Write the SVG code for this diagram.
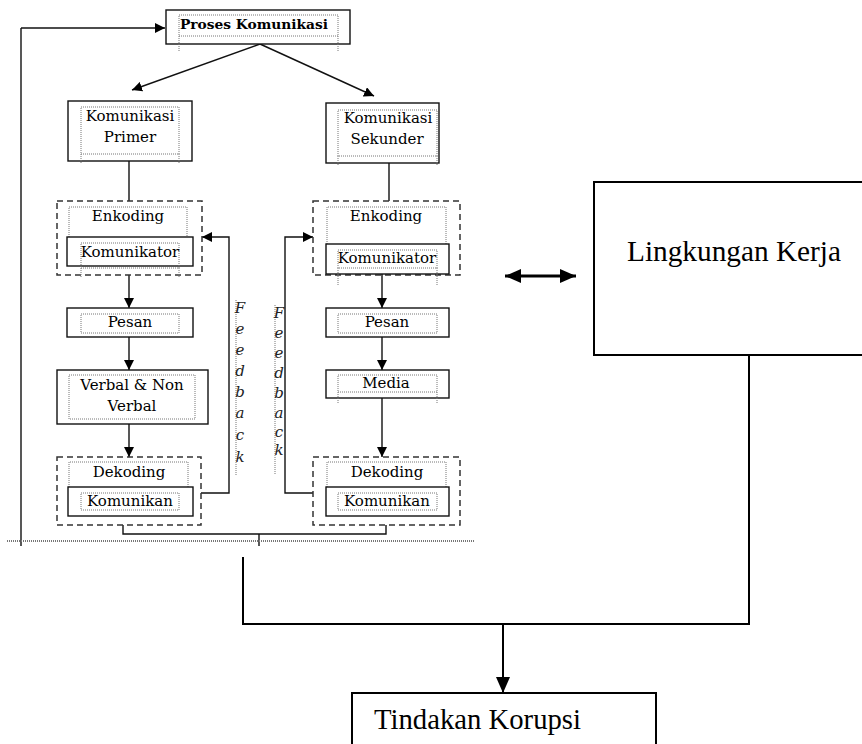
<svg xmlns="http://www.w3.org/2000/svg" width="862" height="744" viewBox="0 0 862 744">
<style>
.box{fill:#fff;stroke:#111;stroke-width:1.4}
.dash{fill:none;stroke:#333;stroke-width:1.5;stroke-dasharray:6 4}
.dot{fill:none;stroke:#777;stroke-width:1;stroke-dasharray:1 1}
.ln{fill:none;stroke:#111;stroke-width:1.4}
.big{fill:none;stroke:#000;stroke-width:2}
.t{font-family:"DejaVu Serif","Liberation Serif",serif;font-size:15px;fill:#000;text-anchor:middle}
.tb{font-family:"DejaVu Serif","Liberation Serif",serif;font-size:13.5px;font-weight:bold;fill:#000;text-anchor:middle}
.fb{font-family:"DejaVu Serif","Liberation Serif",serif;font-size:15px;font-style:italic;fill:#222;text-anchor:middle}
.L{font-family:"Liberation Serif","Times New Roman",serif;font-size:29px;fill:#000}
</style>
<defs>
<marker id="a" viewBox="0 0 10 10" refX="10" refY="5" markerWidth="10" markerHeight="10" markerUnits="userSpaceOnUse" orient="auto"><path d="M0,0 L10,5 L0,10 z" fill="#000"/></marker>
<marker id="b" viewBox="0 0 16 14" refX="16" refY="7" markerWidth="16" markerHeight="14" markerUnits="userSpaceOnUse" orient="auto-start-reverse"><path d="M0,0 L16,7 L0,14 z" fill="#000"/></marker>
</defs>

<g id="connectors">
<line class="ln" x1="21" y1="546" x2="21" y2="28"/>
<line class="ln" x1="21" y1="28" x2="165" y2="28" marker-end="url(#a)"/>
<line class="ln" x1="260" y1="44" x2="132" y2="90" marker-end="url(#a)"/>
<line class="ln" x1="260" y1="44" x2="374" y2="96" marker-end="url(#a)"/>
<line class="ln" x1="129" y1="161" x2="129" y2="201"/>
<line class="ln" x1="389" y1="163" x2="389" y2="201"/>
<line class="ln" x1="129" y1="275" x2="129" y2="308" marker-end="url(#a)"/>
<line class="ln" x1="129" y1="337" x2="129" y2="370" marker-end="url(#a)"/>
<line class="ln" x1="129" y1="424" x2="129" y2="457" marker-end="url(#a)"/>
<line class="ln" x1="382" y1="274" x2="382" y2="308" marker-end="url(#a)"/>
<line class="ln" x1="382" y1="337" x2="382" y2="370" marker-end="url(#a)"/>
<line class="ln" x1="382" y1="398" x2="382" y2="457" marker-end="url(#a)"/>
<path class="ln" d="M201,493 H229 V237 H202" marker-end="url(#a)"/>
<path class="ln" d="M313,493 H285 V237 H313" marker-end="url(#a)"/>
<path class="ln" d="M123,525 V534 H386 V525"/>
<line class="ln" x1="259" y1="534" x2="259" y2="546"/>
<line x1="7" y1="541" x2="475" y2="541" stroke="#777" stroke-width="2" stroke-dasharray="1 1"/>
<line class="dot" x1="236" y1="300" x2="236" y2="475"/>
<line class="dot" x1="275" y1="305" x2="275" y2="475"/>
<line x1="505" y1="276" x2="576" y2="276" stroke="#000" stroke-width="3" marker-start="url(#b)" marker-end="url(#b)"/>
<path class="big" d="M243,557 V624 H749 V356"/>
<line class="big" x1="503" y1="624" x2="503" y2="693" marker-end="url(#b)"/>
</g>

<g id="proses">
<rect class="box" x="166" y="10" width="184" height="34"/>
<rect class="dot" x="179" y="15" width="159" height="21"/>
<path class="dot" d="M179,36 V51 M338,36 V51"/>
<text class="tb" x="254" y="29" textLength="148" lengthAdjust="spacingAndGlyphs">Proses Komunikasi</text>
</g>

<g id="primer">
<rect class="box" x="68" y="101" width="124" height="60"/>
<rect class="dot" x="81" y="107" width="98" height="47"/>
<path class="dot" d="M81,154 V163 M179,154 V163"/>
<text class="t" x="130" y="121">Komunikasi</text>
<text class="t" x="130" y="142">Primer</text>
</g>

<g id="sekunder">
<rect class="box" x="326" y="103" width="113" height="60"/>
<rect class="dot" x="338" y="110" width="99" height="46"/>
<path class="dot" d="M338,156 V165 M437,156 V165"/>
<text class="t" x="388" y="123">Komunikasi</text>
<text class="t" x="387" y="144">Sekunder</text>
</g>

<g id="enkoding-l">
<rect class="dash" x="57" y="201" width="145" height="74"/>
<path class="dot" d="M69,237 V207 H187 V237"/>
<text class="t" x="128" y="221">Enkoding</text>
<rect class="box" x="67" y="237" width="126" height="29"/>
<rect class="dot" x="81" y="243" width="98" height="25"/>
<path class="dot" d="M81,268 V277 M179,268 V277"/>
<text class="t" x="130" y="257">Komunikator</text>
</g>

<g id="pesan-l">
<rect class="box" x="67" y="308" width="126" height="29"/>
<rect class="dot" x="81" y="314" width="98" height="19"/>
<text class="t" x="130" y="327">Pesan</text>
</g>

<g id="verbal">
<rect class="box" x="57" y="370" width="151" height="54"/>
<rect class="dot" x="69" y="375" width="126" height="44"/>
<text class="t" x="132" y="390">Verbal &amp; Non</text>
<text class="t" x="132" y="411">Verbal</text>
</g>

<g id="dekoding-l">
<rect class="dash" x="57" y="457" width="144" height="68"/>
<path class="dot" d="M69,487 V462 H188 V487"/>
<text class="t" x="129" y="477">Dekoding</text>
<rect class="box" x="68" y="487" width="125" height="29"/>
<rect class="dot" x="81" y="493" width="98" height="17"/>
<text class="t" x="130" y="506">Komunikan</text>
</g>

<g id="enkoding-r">
<rect class="dash" x="313" y="201" width="147" height="74"/>
<path class="dot" d="M327,244 V207 H446 V244"/>
<text class="t" x="386" y="221">Enkoding</text>
<rect class="box" x="326" y="244" width="123" height="30"/>
<rect class="dot" x="338" y="250" width="99" height="18"/>
<path class="dot" d="M338,268 V285 M437,268 V285"/>
<text class="t" x="387" y="263">Komunikator</text>
</g>

<g id="pesan-r">
<rect class="box" x="326" y="308" width="123" height="29"/>
<rect class="dot" x="338" y="314" width="99" height="19"/>
<text class="t" x="387" y="327">Pesan</text>
</g>

<g id="media">
<rect class="box" x="326" y="370" width="123" height="28"/>
<rect class="dot" x="338" y="375" width="99" height="17"/>
<path class="dot" d="M338,392 V404 M437,392 V404"/>
<text class="t" x="386" y="388">Media</text>
</g>

<g id="dekoding-r">
<rect class="dash" x="313" y="457" width="147" height="68"/>
<path class="dot" d="M327,487 V462 H446 V487"/>
<text class="t" x="387" y="477">Dekoding</text>
<rect class="box" x="326" y="487" width="123" height="29"/>
<rect class="dot" x="338" y="493" width="99" height="17"/>
<text class="t" x="387" y="506">Komunikan</text>
</g>

<g id="feedback-l">
<text class="fb" x="240" y="313">F</text>
<text class="fb" x="240" y="334">e</text>
<text class="fb" x="240" y="355">e</text>
<text class="fb" x="240" y="376">d</text>
<text class="fb" x="240" y="397">b</text>
<text class="fb" x="240" y="418">a</text>
<text class="fb" x="240" y="440">c</text>
<text class="fb" x="240" y="462">k</text>
</g>

<g id="feedback-r">
<text class="fb" x="279" y="318">F</text>
<text class="fb" x="279" y="338">e</text>
<text class="fb" x="279" y="358">e</text>
<text class="fb" x="279" y="378">d</text>
<text class="fb" x="279" y="398">b</text>
<text class="fb" x="279" y="418">a</text>
<text class="fb" x="279" y="437">c</text>
<text class="fb" x="279" y="455">k</text>
</g>

<g id="lingkungan">
<rect x="594" y="182" width="280" height="173" fill="#fff" stroke="#000" stroke-width="2"/>
<text class="L" x="627" y="261" textLength="214" lengthAdjust="spacingAndGlyphs">Lingkungan Kerja</text>
</g>

<g id="tindakan">
<rect x="352" y="693" width="304" height="70" fill="#fff" stroke="#000" stroke-width="2"/>
<text class="L" x="374" y="729" font-size="28" textLength="207" lengthAdjust="spacingAndGlyphs">Tindakan Korupsi</text>
</g>
</svg>
